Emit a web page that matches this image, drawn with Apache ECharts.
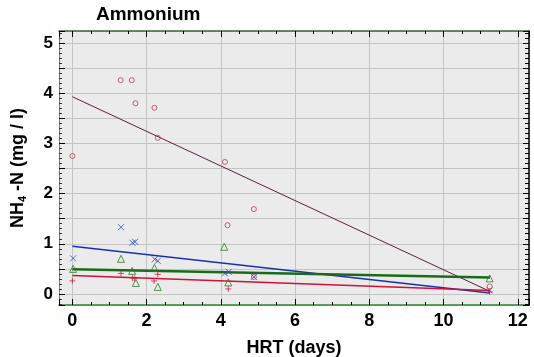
<!DOCTYPE html>
<html><head><meta charset="utf-8">
<script src="https://cdn.jsdelivr.net/npm/echarts@6/dist/echarts.min.js"></script>
<style>html,body{margin:0;padding:0;background:#fff}#c{width:534px;height:357px}</style>
</head><body><div id="c"></div>
<script>
// Data
const circX = [0, 1.30, 1.60, 1.70, 2.21, 2.30, 4.11, 4.18, 4.89, 4.89, 11.24];
const circY = [2.75, 4.26, 4.26, 3.80, 3.71, 3.11, 2.63, 1.37, 1.69, 0.34, 0.15];
const crossX = [0.02, 1.31, 1.62, 1.69, 2.22, 2.30, 4.11, 4.21, 4.89, 11.24];
const crossY = [0.71, 1.33, 1.02, 1.04, 0.69, 0.66, 0.41, 0.44, 0.34, 0.07];
const triX = [0.02, 1.31, 1.61, 1.71, 2.21, 2.30, 4.09, 4.20, 11.24];
const triY = [0.50, 0.70, 0.46, 0.22, 0.52, 0.14, 0.94, 0.23, 0.31];
const plusX = [0, 1.31, 1.62, 1.68, 2.20, 2.30, 4.20, 11.24];
const plusY = [0.26, 0.41, 0.32, 0.31, 0.26, 0.39, 0.10, 0.04];
const fitX = [0, 11.25];
const circFit = [3.93, 0.05];
const crossFit = [0.95, 0.02];
const triFit = [0.49, 0.33];
const plusFit = [0.37, 0.07];

const zip = (xs, ys) => xs.map((x, i) => [x, ys[i]]);
const XMIN = -0.36, XMAX = 12.3, YMIN = -0.22, YMAX = 5.24;

const chart = echarts.init(document.getElementById('c'), null, {renderer: 'canvas'});
const fontFamily = '"Liberation Sans", Arial, sans-serif';
const crossPath = 'path://M0,0L10,10M10,0L0,10';
const plusPath = 'path://M5,0L5,10M0,5L10,5';
const circlePath = 'path://M10,5A5,5,0,1,1,0,5A5,5,0,1,1,10,5Z';
const triPath = 'path://M5,0L10,10L0,10Z';

function scatter(name, data, symbol, color, size) {
  return {
    name, type: 'scatter', data, symbol, symbolSize: size,
    itemStyle: {color: 'rgba(0,0,0,0)', borderColor: color, borderWidth: 1},
    xAxisIndex: 0, yAxisIndex: 0, z: 4
  };
}
function fit(name, ys, color, width) {
  return {
    name, type: 'line', data: zip(fitX, ys), symbol: 'none',
    lineStyle: {color, width}, xAxisIndex: 0, yAxisIndex: 0, z: 3
  };
}

chart.setOption({
  animation: false,
  title: {text: 'Ammonium', left: 91, top: 0,
    textStyle: {fontFamily, fontSize: 19, fontWeight: 'bold', color: '#000'}},
  grid: {left: 59, right: 5, top: 31, bottom: 52, show: true, outerBoundsMode: 'none',
    containLabel: false, backgroundColor: '#ebebeb', borderColor: '#555', borderWidth: 0},
  xAxis: [{
    type: 'value', min: XMIN, max: XMAX, splitNumber: 6,
    name: 'HRT (days)', nameLocation: 'middle', nameGap: 34,
    nameTextStyle: {fontFamily, fontSize: 18, fontWeight: 'bold', color: '#000'},
    axisLine: {show: true, onZero: false, lineStyle: {color: '#2a8a2a', width: 1.5}},
    axisTick: {inside: true, length: 6, lineStyle: {color: '#000'}},
    minorTick: {show: true, splitNumber: 4, length: 3, lineStyle: {color: '#000'}},
    axisLabel: {showMinLabel: false, showMaxLabel: false, margin: 7,
      fontFamily, fontSize: 18, fontWeight: 'bold', color: '#000'},
    splitLine: {show: true, lineStyle: {color: '#c4c4c4', width: 1}}
  }, {
    type: 'value', position: 'top', min: XMIN, max: XMAX, splitNumber: 6,
    axisLine: {show: true, onZero: false, lineStyle: {color: '#3a6a3a', width: 1.5}},
    axisTick: {inside: true, length: 6, lineStyle: {color: '#000'}},
    minorTick: {show: true, splitNumber: 4, length: 3, lineStyle: {color: '#000'}},
    axisLabel: {show: false}, splitLine: {show: false}
  }],
  yAxis: [{
    type: 'value', min: YMIN, max: YMAX, splitNumber: 11,
    name: '{a|NH}{s|4}{a| -N (mg / l)}', nameLocation: 'middle', nameGap: 30,
    nameTextStyle: {
      rich: {
        a: {fontFamily, fontSize: 18, fontWeight: 'bold', color: '#000', lineHeight: 22},
        s: {fontFamily, fontSize: 11, fontWeight: 'bold', color: '#000', lineHeight: 22, padding: [9, 0, 0, 0]}
      }
    },
    axisLine: {show: true, onZero: false, lineStyle: {color: '#777', width: 1}},
    axisTick: {inside: true, length: 6, lineStyle: {color: '#000'}},
    minorTick: {show: true, splitNumber: 5, length: 3, lineStyle: {color: '#333'}},
    axisLabel: {margin: 6, fontFamily, fontSize: 17, fontWeight: 'bold', color: '#000',
      formatter: v => (Math.abs(v - Math.round(v)) < 1e-6 ? String(Math.round(v)) : '')},
    splitLine: {show: true, lineStyle: {color: '#c4c4c4', width: 1}}
  }, {
    type: 'value', position: 'right', min: YMIN, max: YMAX, splitNumber: 11,
    axisLine: {show: true, onZero: false, lineStyle: {color: '#000', width: 1.5}},
    axisTick: {inside: true, length: 6, lineStyle: {color: '#000'}},
    minorTick: {show: true, splitNumber: 5, length: 4, lineStyle: {color: '#000'}},
    axisLabel: {show: false}, splitLine: {show: false}
  }],
  series: [
    fit('circle fit', circFit, '#5a1f45', 1),
    fit('cross fit', crossFit, '#1a2fb0', 1.5),
    fit('plus fit', plusFit, '#d0103a', 1.5),
    fit('triangle fit', triFit, '#1a6a1a', 2.5),
    scatter('circles', zip(circX, circY), circlePath, '#b04050', 5),
    scatter('crosses', zip(crossX, crossY), crossPath, '#2a4ac8', 6),
    scatter('triangles', zip(triX, triY), triPath, '#2a7a2a', 7),
    scatter('plus', zip(plusX, plusY), plusPath, '#d02040', 6)
  ]
});
</script></body></html>
